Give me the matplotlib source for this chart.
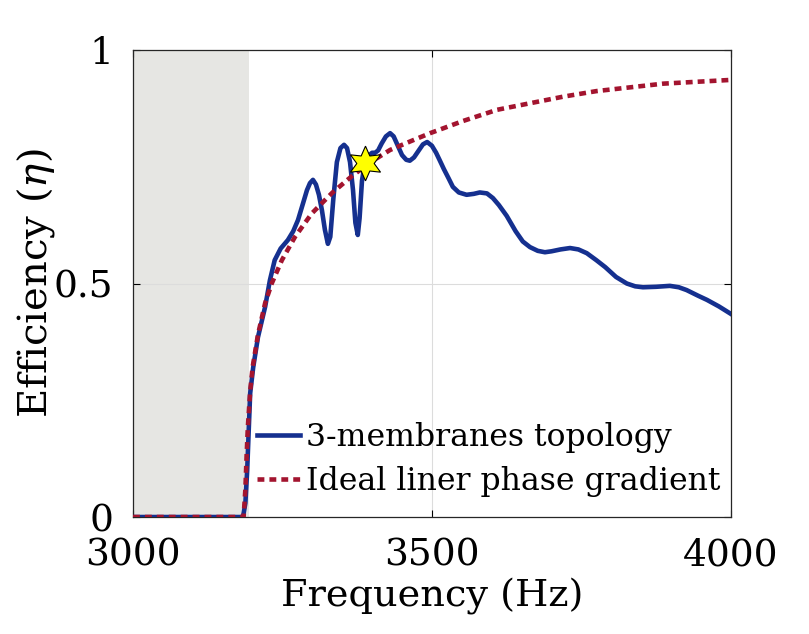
import numpy as np
import matplotlib; matplotlib.use("Agg")
import matplotlib.pyplot as plt

plt.rcParams["font.family"] = "DejaVu Serif"
plt.rcParams["mathtext.fontset"] = "dejavuserif"

# 3-membranes topology
f_mem = [3000, 3184, 3188, 3191, 3194, 3196, 3201, 3209, 3221, 3229, 3237, 3247,
         3259, 3268, 3276, 3284, 3291, 3296, 3301, 3306, 3311, 3316, 3321, 3326,
         3330, 3335, 3341, 3347, 3353, 3358, 3363, 3368, 3372, 3376, 3379, 3383,
         3388, 3395, 3400, 3405, 3410, 3416, 3423, 3430, 3436, 3443, 3450, 3457,
         3463, 3470, 3478, 3485, 3492, 3500, 3507, 3513, 3520, 3528, 3535, 3545,
         3558, 3570, 3580, 3592, 3602, 3612, 3625, 3640, 3652, 3664, 3677, 3689,
         3700, 3715, 3731, 3745, 3759, 3775, 3790, 3808, 3826, 3840, 3853, 3875,
         3898, 3913, 3926, 3945, 3960, 3980, 4000]
eta_mem = [0, 0, 0.03, 0.10, 0.20, 0.265, 0.32, 0.385, 0.45, 0.507, 0.55, 0.575,
           0.593, 0.612, 0.636, 0.67, 0.70, 0.715, 0.722, 0.712, 0.69, 0.657, 0.615, 0.585,
           0.60, 0.68, 0.76, 0.79, 0.797, 0.79, 0.76, 0.70, 0.63, 0.604, 0.64, 0.72,
           0.76, 0.775, 0.78, 0.78, 0.785, 0.80, 0.815, 0.822, 0.815, 0.795, 0.775, 0.765,
           0.763, 0.77, 0.785, 0.798, 0.803, 0.795, 0.78, 0.764, 0.745, 0.725, 0.707, 0.695,
           0.69, 0.692, 0.695, 0.693, 0.683, 0.668, 0.645, 0.612, 0.59, 0.578, 0.57, 0.567,
           0.569, 0.573, 0.576, 0.573, 0.565, 0.55, 0.535, 0.514, 0.50, 0.494, 0.492, 0.493,
           0.495, 0.492, 0.486, 0.474, 0.465, 0.451, 0.435]

# ideal linear phase gradient
f_ideal = [3000, 3185, 3188, 3190, 3192, 3196, 3200, 3209, 3221, 3232, 3249, 3271,
           3299, 3333, 3368, 3400, 3430, 3465, 3497, 3552, 3609, 3664, 3719, 3775,
           3831, 3887, 3943, 4000]
eta_ideal = [0, 0, 0.06, 0.13, 0.19, 0.27, 0.32, 0.39, 0.458, 0.50, 0.55, 0.60,
             0.65, 0.694, 0.732, 0.762, 0.786, 0.805, 0.822, 0.848, 0.872, 0.886, 0.90, 0.912,
             0.92, 0.928, 0.932, 0.936]

star_f, star_eta = 3388, 0.758
cutoff = 3194

fig = plt.figure(figsize=(8.09, 6.34), dpi=100)
ax = fig.add_axes([0.1644, 0.1845, 0.739, 0.7366])
ax.axvspan(3000, cutoff, color="#e6e6e3", lw=0, zorder=0)
ax.plot(f_mem, eta_mem, color="#15308f", lw=3.3, label="3-membranes topology",
        solid_joinstyle="round", zorder=3)
ax.plot(f_ideal, eta_ideal, color="#a3142f", lw=3.3, ls=(0, (1.5, 1.1)),
        dash_capstyle="butt", label="Ideal liner phase gradient", zorder=4)
ax.plot([star_f], [star_eta], marker=(6, 1, 0), ms=25, mfc="#ffff00", mec="k",
        mew=0.8, ls="none", zorder=5)

ax.set_xlim(3000, 4000); ax.set_ylim(0, 1)
ax.set_xticks([3000, 3500, 4000]); ax.set_yticks([0, 0.5, 1])
ax.set_yticklabels(["0", "0.5", "1"])
ax.grid(color="#dcdcdc", lw=0.8)
ax.tick_params(direction="in", length=5, labelsize=27, top=True, right=True)
ax.tick_params(axis="x", pad=15)
ax.tick_params(axis="y", pad=14)
for s in ax.spines.values():
    s.set_color("#262626"); s.set_linewidth(0.9)
ax.set_xlabel("Frequency (Hz)", fontsize=27.5, labelpad=3)
ax.set_ylabel(r"Efficiency ($\eta$)", fontsize=29, labelpad=-2)
ax.legend(loc="lower left", frameon=False, fontsize=22.7, handlelength=1.35,
          handletextpad=0.2, labelspacing=0.42, borderaxespad=0, borderpad=0,
          bbox_to_anchor=(0.208, 0.042))
fig.savefig("out.png", dpi=100)
